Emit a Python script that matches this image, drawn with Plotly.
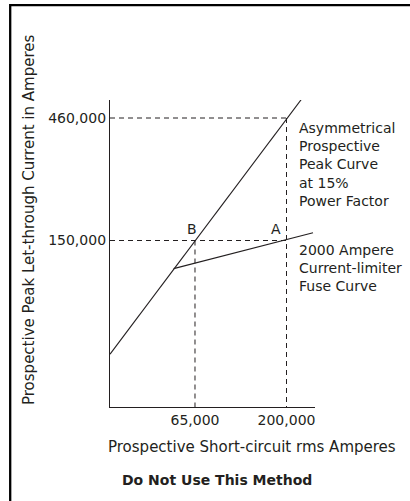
import math
import plotly.graph_objects as go

# ---------------- data ----------------
peak_x = [22900, 242000]          # Asymmetrical prospective peak curve
peak_y = [53000, 550000]
fuse_x = [50000, 277000]          # 2000 A current-limiting fuse curve
fuse_y = [116000, 161000]
point_b = [65000, 150000]
point_a = [200000, 150000]
peak_at_a = [200000, 460000]
x_tickvals = [65000, 200000]
x_ticktext = ["65,000", "200,000"]
y_tickvals = [150000, 460000]
y_ticktext = ["150,000", "460,000"]

# ---------------- layout geometry ----------------
W, H = 410, 501
L, R, T, B = 110, 95, 100, 94
PW, PH = W - L - R, H - T - B
x_range = [4.3596, 5.453]
y_range = [4.5146, 5.7343]
FONT = "DejaVu Sans"
INK = "#231f20"


def px2x(px):
    return (px - L) / PW


def py2y(py):
    return (H - B - py) / PH


x_min = 10 ** x_range[0]
y_min = 10 ** y_range[0]

fig = go.Figure()

dash = dict(color=INK, width=1, dash="5px,4px")
# dashed guide lines
fig.add_trace(go.Scatter(x=[x_min, peak_at_a[0]], y=[peak_at_a[1], peak_at_a[1]],
                         mode="lines", line=dash, hoverinfo="skip"))
fig.add_trace(go.Scatter(x=[peak_at_a[0], peak_at_a[0]], y=[peak_at_a[1], y_min],
                         mode="lines", line=dash, hoverinfo="skip"))
fig.add_trace(go.Scatter(x=[x_min, point_a[0]], y=[point_a[1], point_a[1]],
                         mode="lines", line=dash, hoverinfo="skip"))
fig.add_trace(go.Scatter(x=[point_b[0], point_b[0]], y=[point_b[1], y_min],
                         mode="lines", line=dash, hoverinfo="skip"))

# curves
fig.add_trace(go.Scatter(x=peak_x, y=peak_y, mode="lines",
                         line=dict(color=INK, width=1.1), hoverinfo="skip"))
fig.add_trace(go.Scatter(x=fuse_x, y=fuse_y, mode="lines",
                         line=dict(color=INK, width=1.1), hoverinfo="skip"))

axis_common = dict(showgrid=False, zeroline=False, showline=True, linecolor=INK,
                   linewidth=1.3, ticks="", tickfont=dict(family=FONT, size=14, color=INK),
                   fixedrange=True)
fig.update_xaxes(type="log", range=x_range, tickmode="array", tickvals=x_tickvals,
                 ticktext=x_ticktext, **axis_common)
fig.update_yaxes(type="log", range=y_range, tickmode="array", tickvals=y_tickvals,
                 ticktext=y_ticktext, **axis_common)

ann = []


def add_text(text, px, py, size=14, xanchor="center", yanchor="middle", angle=0,
             bold=False, align="left"):
    ann.append(dict(text=f"<b>{text}</b>" if bold else text, x=px2x(px), y=py2y(py),
                    xref="paper", yref="paper", showarrow=False, xanchor=xanchor,
                    yanchor=yanchor, textangle=angle, align=align,
                    font=dict(family=FONT, size=size, color=INK)))


add_text("Prospective Peak Let-through Current in Amperes", 29, 220, size=15, angle=-90)
add_text("Prospective Short-circuit rms Amperes", 252, 447, size=15)
add_text("Do Not Use This Method", 216.5, 480, size=14, bold=True)
add_text("Asymmetrical<br>Prospective<br>Peak Curve<br>at 15%<br>Power Factor",
         297, 164.4, xanchor="left")
add_text("2000 Ampere<br>Current-limiter<br>Fuse Curve", 297, 268, xanchor="left")
add_text("B", 192, 229)
add_text("A", 276, 229)

fig.update_layout(
    width=W, height=H,
    margin=dict(l=L, r=R, t=T, b=B, pad=0),
    paper_bgcolor="white", plot_bgcolor="white",
    showlegend=False,
    annotations=ann,
    shapes=[dict(type="rect", xref="paper", yref="paper",
                 x0=px2x(10.2), x1=px2x(430), y0=py2y(520), y1=py2y(5.2),
                 line=dict(color="black", width=2.3), layer="above")],
)

fig.write_html("out.html", config={"displayModeBar": False},
               post_script="document.body.style.margin='0';"
                           "document.body.style.overflow='hidden';")
